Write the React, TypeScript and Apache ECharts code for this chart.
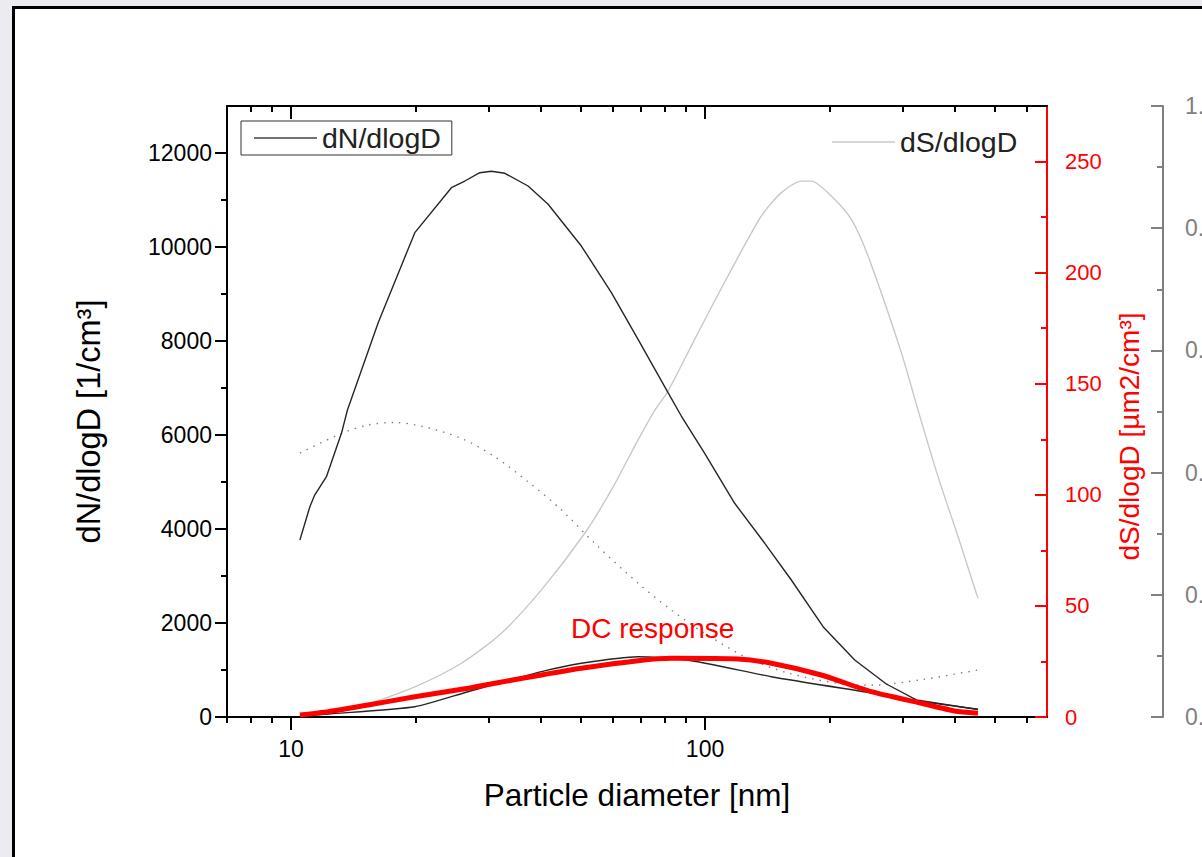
import React, { useEffect, useRef } from "react";
import * as echarts from "echarts";

// ---- axis ranges / ticks ----
const X_MIN = 7;
const X_MAX = 670;
const X_MAJOR = [10, 100];
const X_MINOR = [7, 8, 9, 20, 30, 40, 50, 60, 70, 80, 90, 200, 300, 400, 500, 600];

const N_MAX = 13000;
const N_MAJOR = [0, 2000, 4000, 6000, 8000, 10000, 12000];
const N_MINOR = [1000, 3000, 5000, 7000, 9000, 11000];

const S_MAX = 275;
const S_MAJOR = [0, 50, 100, 150, 200, 250];
const S_MINOR = [25, 75, 125, 175, 225];

const R_MAX = 1;
const R_MAJOR = [0, 0.2, 0.4, 0.6, 0.8, 1.0];
const R_MINOR = [0.1, 0.3, 0.5, 0.7, 0.9];

// ---- data ----
const DIAM_DN = [10.5, 11.1, 11.4, 12.17, 13.23, 13.68, 16.23, 19.9, 24.39, 26.28, 28.57, 30.46, 32.83, 37.36, 41.77, 50.25, 59.39, 68.89, 81.39, 87.63, 99.8, 117.9, 139.4, 161.6, 192.8, 229.9, 274.1, 323.9, 456.4];
const DN = [3766, 4475, 4723, 5113, 6036, 6532, 8390, 10305, 11262, 11404, 11581, 11611, 11568, 11298, 10909, 10021, 9028, 8036, 6900, 6404, 5611, 4547, 3696, 2915, 1921, 1213, 702, 362, 160];

const DIAM_DS = [10.5, 12.99, 14.78, 19.9, 25.78, 32.21, 40.24, 51.21, 59.39, 68.89, 75.6, 81.4, 96.2, 113.6, 136.8, 152.9, 170.9, 180.6, 201.8, 225.6, 247.6, 298, 326.9, 365.4, 408.4, 456.4];
const DS = [0.9, 2.4, 4.95, 13.6, 24.2, 37.7, 57.2, 82.7, 102.2, 124.7, 138, 146.7, 173, 198.5, 225.5, 236, 241.2, 241.2, 234.5, 224, 207.5, 164, 138.2, 108.2, 81.2, 53.4];

const DIAM_DOT = [10.5, 13.23, 15.35, 17.8, 20.64, 25.78, 31.05, 37.36, 44.97, 54.15, 68.89, 82.9, 99.8, 127, 158.7, 209.6, 251.8, 333, 456.4];
const DOT = [0.432, 0.464, 0.478, 0.482, 0.476, 0.456, 0.426, 0.385, 0.339, 0.284, 0.219, 0.175, 0.137, 0.096, 0.072, 0.055, 0.052, 0.061, 0.077];

const DIAM_LOW = [10.5, 12.29, 19.9, 26.76, 40.24, 50.25, 68.89, 92.7, 144.6, 261.8, 323.9, 456.4];
const LOW = [21, 64, 219, 538, 964, 1143, 1283, 1198, 857, 489, 347, 164];

const DIAM_DC = [10.5, 12.29, 15.35, 19.9, 26.76, 31.05, 40.24, 50.25, 68.89, 82.9, 120.1, 144.6, 190.9, 252.2, 333, 400.9, 456.4];
const DC = [0.9, 2.4, 5.4, 9.1, 12.9, 15.2, 18.9, 21.9, 25.3, 26.4, 26.1, 24.2, 18.9, 11.4, 6.2, 2.7, 1.7];

const FONT = 'Arial, "Liberation Sans", Helvetica, sans-serif';
const lg = (v: number) => Math.log10(v);
const pts = (xs: number[], ys: number[]) => xs.map((d, i) => [lg(d), ys[i]]);

function xAxisDef(position: "top" | "bottom", major: boolean) {
  const inside = position === "top";
  return {
    type: "value",
    position,
    min: lg(X_MIN),
    max: lg(X_MAX),
    splitLine: { show: false },
    axisLine: { show: major, onZero: false, lineStyle: { color: "#000", width: 2 } },
    axisTick: {
      show: true,
      inside,
      length: major ? 13 : 6,
      customValues: (major ? X_MAJOR : X_MINOR).map(lg),
      lineStyle: { color: "#000", width: 2 },
    },
    axisLabel: {
      show: major && position === "bottom",
      customValues: X_MAJOR.map(lg),
      formatter: (v: number) => String(Math.round(Math.pow(10, v))),
      fontSize: 23,
      color: "#000",
      fontFamily: FONT,
      margin: 20,
    },
    ...(major && position === "bottom"
      ? {
          name: "Particle diameter [nm]",
          nameLocation: "middle",
          nameGap: 62,
          nameTextStyle: { fontSize: 31.5, color: "#000", fontFamily: FONT },
        }
      : {}),
  };
}

function yAxisDef(opts: {
  max: number;
  ticks: number[];
  major: boolean;
  color: string;
  position: "left" | "right";
  offset?: number;
  inside: boolean;
  labelMargin?: number;
  fontSize?: number;
  fmt?: (v: number) => string;
  name?: string;
  nameGap?: number;
  nameSize?: number;
  namePadding?: number[];
}) {
  return {
    type: "value",
    position: opts.position,
    offset: opts.offset || 0,
    min: 0,
    max: opts.max,
    splitLine: { show: false },
    axisLine: { show: opts.major, onZero: false, lineStyle: { color: opts.color, width: 2 } },
    axisTick: {
      show: true,
      inside: opts.inside,
      length: opts.major ? 12 : 6,
      customValues: opts.ticks,
      lineStyle: { color: opts.color, width: 2 },
    },
    axisLabel: {
      show: opts.major,
      customValues: opts.ticks,
      formatter: opts.fmt || ((v: number) => String(v)),
      fontSize: opts.fontSize || 23,
      color: opts.color,
      fontFamily: FONT,
      margin: opts.labelMargin || 15,
    },
    ...(opts.name
      ? {
          name: opts.name,
          nameLocation: "middle",
          nameGap: opts.nameGap,
          nameTextStyle: { fontSize: opts.nameSize, color: opts.color, fontFamily: FONT, padding: opts.namePadding || 0 },
        }
      : {}),
  };
}

export default function App() {
  const ref = useRef<HTMLDivElement>(null);
  useEffect(() => {
    const chart = echarts.init(ref.current!, null, { renderer: "svg" });
    const option: any = {
      animation: false,
      backgroundColor: "transparent",
      grid: { left: 227, top: 106, width: 820, height: 611, containLabel: false, outerBoundsMode: "none" },
      xAxis: [
        xAxisDef("bottom", true),
        xAxisDef("bottom", false),
        xAxisDef("top", true),
        xAxisDef("top", false),
      ],
      yAxis: [
        yAxisDef({ max: N_MAX, ticks: N_MAJOR, major: true, color: "#000", position: "left", inside: false, labelMargin: 15, fontSize: 23, name: "dN/dlogD [1/cm³]", nameGap: 122, nameSize: 32.5, namePadding: [0, 20, 0, 0] }),
        yAxisDef({ max: N_MAX, ticks: N_MINOR, major: false, color: "#000", position: "left", inside: false }),
        yAxisDef({ max: S_MAX, ticks: S_MAJOR, major: true, color: "#ff0000", position: "right", inside: true, labelMargin: 18, fontSize: 22, name: "dS/dlogD [µm2/cm³]", nameGap: 68, nameSize: 28, namePadding: [0, 50, 0, 0] }),
        yAxisDef({ max: S_MAX, ticks: S_MINOR, major: false, color: "#ff0000", position: "right", inside: true }),
        yAxisDef({ max: R_MAX, ticks: R_MAJOR, major: true, color: "#808080", position: "right", offset: 116, inside: true, labelMargin: 22, fontSize: 23, fmt: (v: number) => v.toFixed(1) }),
        yAxisDef({ max: R_MAX, ticks: R_MINOR, major: false, color: "#808080", position: "right", offset: 116, inside: true }),
      ],
      legend: [
        {
          data: [{ name: "dN/dlogD" }],
          left: 241,
          top: 121,
          orient: "horizontal",
          padding: [1, 11, 1, 13],
          borderColor: "#333",
          borderWidth: 1,
          icon: "rect",
          itemWidth: 63,
          itemHeight: 1.5,
          textStyle: { fontSize: 28.5, color: "#222", fontFamily: FONT, lineHeight: 32 },
          selectedMode: false,
        },
        {
          data: [{ name: "dS/dlogD" }],
          left: 832,
          top: 126,
          padding: 0,
          icon: "rect",
          itemWidth: 63,
          itemHeight: 1.5,
          textStyle: { fontSize: 28.5, color: "#222", fontFamily: FONT, lineHeight: 32 },
          selectedMode: false,
        },
      ],
      series: [
        {
          name: "dS/dlogD",
          type: "line",
          xAxisIndex: 0,
          yAxisIndex: 2,
          data: pts(DIAM_DS, DS),
          showSymbol: false,
          smooth: 0.25,
          lineStyle: { color: "#c8c8c8", width: 1.4 },
          itemStyle: { color: "#c8c8c8" },
          z: 2,
        },
        {
          name: "Ratio",
          type: "line",
          xAxisIndex: 0,
          yAxisIndex: 4,
          data: pts(DIAM_DOT, DOT),
          showSymbol: false,
          smooth: 0.3,
          lineStyle: { color: "#808080", width: 1.4, type: [1.5, 6] },
          itemStyle: { color: "#808080" },
          z: 2,
        },
        {
          name: "dN/dlogD",
          type: "line",
          xAxisIndex: 0,
          yAxisIndex: 0,
          data: pts(DIAM_DN, DN),
          showSymbol: false,
          lineStyle: { color: "#262626", width: 1.4 },
          itemStyle: { color: "#444" },
          z: 3,
        },
        {
          name: "dN/dlogD (DC)",
          type: "line",
          xAxisIndex: 0,
          yAxisIndex: 0,
          data: pts(DIAM_LOW, LOW),
          showSymbol: false,
          smooth: 0.2,
          lineStyle: { color: "#262626", width: 1.4 },
          itemStyle: { color: "#262626" },
          z: 3,
        },
        {
          name: "DC response",
          type: "line",
          xAxisIndex: 0,
          yAxisIndex: 2,
          data: pts(DIAM_DC, DC),
          showSymbol: false,
          smooth: 0.2,
          lineStyle: { color: "#ff0000", width: 5 },
          itemStyle: { color: "#ff0000" },
          z: 4,
        },
      ],
      graphic: [
        {
          type: "text",
          left: 571,
          top: 614,
          style: { text: "DC response", fill: "#ff0000", fontSize: 28, fontFamily: FONT },
          z: 10,
        },
      ],
    };
    chart.setOption(option);
    return () => chart.dispose();
  }, []);
  return (
    <div style={{ position: "fixed", left: 0, top: 0, width: 1202, height: 857, background: "#ececf0", overflow: "hidden" }}>
      <div style={{ position: "absolute", left: 12, top: 6, width: 1210, height: 870, borderLeft: "3px solid #000", borderTop: "3px solid #000", background: "#fff" }} />
      <div ref={ref} style={{ position: "absolute", left: 0, top: 0, width: 1202, height: 857 }} />
    </div>
  );
}
